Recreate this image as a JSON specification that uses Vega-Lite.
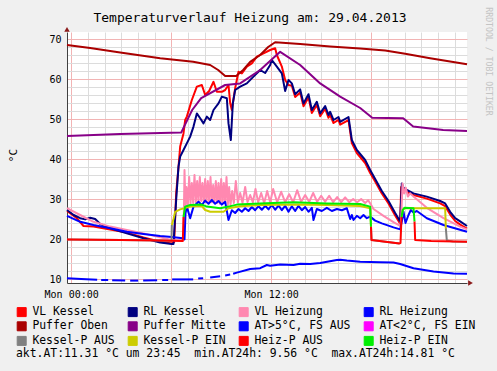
{
  "$schema": "https://vega.github.io/schema/vega-lite/v6.json",
  "width": 400,
  "height": 251,
  "autosize": {"type": "none"},
  "padding": {"left": 67, "top": 32, "right": 30, "bottom": 88},
  "background": "#f0f0f0",
  "datasets": {
    "d": [
      {"s":"VL Kessel","h":-0.25,"v":27.0},{"s":"VL Kessel","h":0.34,"v":25.2},{"s":"VL Kessel","h":0.74,"v":23.25},{"s":"VL Kessel","h":1.34,"v":23.1},{"s":"VL Kessel","h":2.34,"v":22.4},{"s":"VL Kessel","h":3.34,"v":21.6},{"s":"VL Kessel","h":4.34,"v":20.4},{"s":"VL Kessel","h":5.34,"v":19.3},{"s":"VL Kessel","h":6.04,"v":18.9},{"s":"VL Kessel","h":6.18,"v":19.2},{"s":"VL Kessel","h":6.3,"v":31.4},{"s":"VL Kessel","h":6.44,"v":38.0},{"s":"VL Kessel","h":6.54,"v":43.1},{"s":"VL Kessel","h":6.74,"v":46.4},{"s":"VL Kessel","h":6.84,"v":49.75},{"s":"VL Kessel","h":6.94,"v":50.6},{"s":"VL Kessel","h":7.24,"v":54.75},{"s":"VL Kessel","h":7.54,"v":58.1},{"s":"VL Kessel","h":7.84,"v":58.5},{"s":"VL Kessel","h":8.04,"v":56.0},{"s":"VL Kessel","h":8.28,"v":57.0},{"s":"VL Kessel","h":8.54,"v":59.3},{"s":"VL Kessel","h":8.74,"v":56.8},{"s":"VL Kessel","h":9.04,"v":56.8},{"s":"VL Kessel","h":9.24,"v":57.25},{"s":"VL Kessel","h":9.44,"v":58.5},{"s":"VL Kessel","h":9.54,"v":54.0},{"s":"VL Kessel","h":9.64,"v":52.25},{"s":"VL Kessel","h":9.84,"v":57.7},{"s":"VL Kessel","h":10.04,"v":61.8},{"s":"VL Kessel","h":10.24,"v":61.4},{"s":"VL Kessel","h":10.54,"v":63.1},{"s":"VL Kessel","h":10.84,"v":63.9},{"s":"VL Kessel","h":11.14,"v":65.6},{"s":"VL Kessel","h":11.54,"v":66.4},{"s":"VL Kessel","h":11.94,"v":67.25},{"s":"VL Kessel","h":12.24,"v":67.7},{"s":"VL Kessel","h":12.34,"v":66.0},{"s":"VL Kessel","h":12.64,"v":63.1},{"s":"VL Kessel","h":12.84,"v":59.75},{"s":"VL Kessel","h":13.04,"v":58.5},{"s":"VL Kessel","h":13.24,"v":58.3},{"s":"VL Kessel","h":13.44,"v":55.5},{"s":"VL Kessel","h":13.74,"v":56.6},{"s":"VL Kessel","h":13.94,"v":53.2},{"s":"VL Kessel","h":14.24,"v":55.4},{"s":"VL Kessel","h":14.44,"v":51.5},{"s":"VL Kessel","h":14.74,"v":53.5},{"s":"VL Kessel","h":14.94,"v":50.7},{"s":"VL Kessel","h":15.24,"v":52.6},{"s":"VL Kessel","h":15.44,"v":50.3},{"s":"VL Kessel","h":15.54,"v":51.0},{"s":"VL Kessel","h":15.74,"v":49.0},{"s":"VL Kessel","h":16.04,"v":49.8},{"s":"VL Kessel","h":16.14,"v":48.6},{"s":"VL Kessel","h":16.64,"v":49.7},{"s":"VL Kessel","h":16.84,"v":44.0},{"s":"VL Kessel","h":17.14,"v":41.5},{"s":"VL Kessel","h":17.64,"v":39.0},{"s":"VL Kessel","h":17.94,"v":36.5},{"s":"VL Kessel","h":18.24,"v":34.4},{"s":"VL Kessel","h":18.64,"v":31.4},{"s":"VL Kessel","h":19.04,"v":28.9},{"s":"VL Kessel","h":19.44,"v":25.9},{"s":"VL Kessel","h":19.74,"v":23.8},{"s":"VL Kessel","h":19.8,"v":33.0},{"s":"VL Kessel","h":20.14,"v":31.8},{"s":"VL Kessel","h":20.54,"v":31.0},{"s":"VL Kessel","h":21.34,"v":30.1},{"s":"VL Kessel","h":22.14,"v":28.9},{"s":"VL Kessel","h":22.44,"v":28.2},{"s":"VL Kessel","h":22.74,"v":26.1},{"s":"VL Kessel","h":23.04,"v":24.5},{"s":"VL Kessel","h":23.34,"v":23.6},{"s":"VL Kessel","h":23.75,"v":22.6},

      {"s":"RL Kessel","h":-0.25,"v":27.25},{"s":"RL Kessel","h":0.15,"v":26.0},{"s":"RL Kessel","h":0.54,"v":25.2},{"s":"RL Kessel","h":0.84,"v":24.9},{"s":"RL Kessel","h":1.14,"v":25.3},{"s":"RL Kessel","h":1.44,"v":25.0},{"s":"RL Kessel","h":1.74,"v":23.75},{"s":"RL Kessel","h":2.34,"v":22.7},{"s":"RL Kessel","h":3.34,"v":21.4},{"s":"RL Kessel","h":4.34,"v":20.2},{"s":"RL Kessel","h":5.34,"v":19.1},{"s":"RL Kessel","h":6.04,"v":18.75},{"s":"RL Kessel","h":6.14,"v":18.75},{"s":"RL Kessel","h":6.3,"v":29.75},{"s":"RL Kessel","h":6.44,"v":38.1},{"s":"RL Kessel","h":6.54,"v":40.6},{"s":"RL Kessel","h":6.74,"v":42.25},{"s":"RL Kessel","h":6.94,"v":43.9},{"s":"RL Kessel","h":7.14,"v":45.6},{"s":"RL Kessel","h":7.34,"v":48.1},{"s":"RL Kessel","h":7.54,"v":51.4},{"s":"RL Kessel","h":7.74,"v":50.2},{"s":"RL Kessel","h":7.94,"v":48.9},{"s":"RL Kessel","h":8.14,"v":50.6},{"s":"RL Kessel","h":8.34,"v":49.75},{"s":"RL Kessel","h":8.54,"v":52.25},{"s":"RL Kessel","h":8.84,"v":53.9},{"s":"RL Kessel","h":9.04,"v":55.6},{"s":"RL Kessel","h":9.34,"v":55.2},{"s":"RL Kessel","h":9.44,"v":48.9},{"s":"RL Kessel","h":9.58,"v":44.75},{"s":"RL Kessel","h":9.7,"v":53.9},{"s":"RL Kessel","h":9.84,"v":57.25},{"s":"RL Kessel","h":10.14,"v":58.1},{"s":"RL Kessel","h":10.54,"v":58.9},{"s":"RL Kessel","h":10.94,"v":60.6},{"s":"RL Kessel","h":11.34,"v":62.25},{"s":"RL Kessel","h":11.64,"v":61.5},{"s":"RL Kessel","h":11.94,"v":63.5},{"s":"RL Kessel","h":12.04,"v":64.75},{"s":"RL Kessel","h":12.34,"v":63.1},{"s":"RL Kessel","h":12.64,"v":61.4},{"s":"RL Kessel","h":12.84,"v":57.0},{"s":"RL Kessel","h":13.04,"v":59.75},{"s":"RL Kessel","h":13.24,"v":58.9},{"s":"RL Kessel","h":13.44,"v":56.2},{"s":"RL Kessel","h":13.74,"v":57.4},{"s":"RL Kessel","h":13.94,"v":53.9},{"s":"RL Kessel","h":14.24,"v":56.2},{"s":"RL Kessel","h":14.44,"v":52.25},{"s":"RL Kessel","h":14.74,"v":54.3},{"s":"RL Kessel","h":14.94,"v":51.4},{"s":"RL Kessel","h":15.24,"v":53.25},{"s":"RL Kessel","h":15.44,"v":51.0},{"s":"RL Kessel","h":15.54,"v":51.8},{"s":"RL Kessel","h":15.74,"v":49.75},{"s":"RL Kessel","h":16.04,"v":50.5},{"s":"RL Kessel","h":16.14,"v":49.3},{"s":"RL Kessel","h":16.64,"v":50.5},{"s":"RL Kessel","h":16.84,"v":44.75},{"s":"RL Kessel","h":17.14,"v":42.25},{"s":"RL Kessel","h":17.64,"v":39.75},{"s":"RL Kessel","h":17.94,"v":37.25},{"s":"RL Kessel","h":18.24,"v":35.0},{"s":"RL Kessel","h":18.64,"v":32.0},{"s":"RL Kessel","h":19.04,"v":29.5},{"s":"RL Kessel","h":19.44,"v":26.5},{"s":"RL Kessel","h":19.74,"v":24.4},{"s":"RL Kessel","h":19.84,"v":33.9},{"s":"RL Kessel","h":19.94,"v":32.8},{"s":"RL Kessel","h":20.14,"v":32.25},{"s":"RL Kessel","h":20.54,"v":31.4},{"s":"RL Kessel","h":21.34,"v":30.6},{"s":"RL Kessel","h":22.14,"v":29.5},{"s":"RL Kessel","h":22.44,"v":28.9},{"s":"RL Kessel","h":22.74,"v":26.8},{"s":"RL Kessel","h":23.04,"v":25.2},{"s":"RL Kessel","h":23.34,"v":24.4},{"s":"RL Kessel","h":23.75,"v":23.25},

      {"s":"VL Heizung","h":-0.25,"v":27.7},{"s":"VL Heizung","h":0.54,"v":26.0},{"s":"VL Heizung","h":1.34,"v":24.3},{"s":"VL Heizung","h":2.34,"v":23.1},{"s":"VL Heizung","h":3.34,"v":22.25},{"s":"VL Heizung","h":4.34,"v":21.4},{"s":"VL Heizung","h":5.34,"v":20.4},{"s":"VL Heizung","h":6.04,"v":19.75},{"s":"VL Heizung","h":6.6,"v":19.6},{"s":"VL Heizung","h":6.74,"v":20.0},{"s":"VL Heizung","h":6.8,"v":37.25},{"s":"VL Heizung","h":6.86,"v":28.0},{"s":"VL Heizung","h":6.92,"v":33.0},{"s":"VL Heizung","h":7.0,"v":28.5},{"s":"VL Heizung","h":7.08,"v":35.5},{"s":"VL Heizung","h":7.16,"v":28.8},{"s":"VL Heizung","h":7.24,"v":34.0},{"s":"VL Heizung","h":7.32,"v":29.0},{"s":"VL Heizung","h":7.4,"v":36.0},{"s":"VL Heizung","h":7.48,"v":29.2},{"s":"VL Heizung","h":7.56,"v":34.5},{"s":"VL Heizung","h":7.64,"v":29.2},{"s":"VL Heizung","h":7.72,"v":35.5},{"s":"VL Heizung","h":7.8,"v":29.5},{"s":"VL Heizung","h":7.88,"v":34.0},{"s":"VL Heizung","h":7.96,"v":29.2},{"s":"VL Heizung","h":8.04,"v":35.0},{"s":"VL Heizung","h":8.12,"v":29.2},{"s":"VL Heizung","h":8.2,"v":34.5},{"s":"VL Heizung","h":8.28,"v":29.0},{"s":"VL Heizung","h":8.36,"v":35.5},{"s":"VL Heizung","h":8.44,"v":29.2},{"s":"VL Heizung","h":8.52,"v":33.5},{"s":"VL Heizung","h":8.6,"v":29.0},{"s":"VL Heizung","h":8.68,"v":34.5},{"s":"VL Heizung","h":8.76,"v":29.0},{"s":"VL Heizung","h":8.84,"v":34.0},{"s":"VL Heizung","h":8.92,"v":28.8},{"s":"VL Heizung","h":9.0,"v":35.0},{"s":"VL Heizung","h":9.08,"v":29.0},{"s":"VL Heizung","h":9.16,"v":34.0},{"s":"VL Heizung","h":9.24,"v":29.0},{"s":"VL Heizung","h":9.32,"v":35.5},{"s":"VL Heizung","h":9.4,"v":28.5},{"s":"VL Heizung","h":9.48,"v":33.0},{"s":"VL Heizung","h":9.56,"v":28.5},{"s":"VL Heizung","h":9.66,"v":32.0},{"s":"VL Heizung","h":9.76,"v":29.0},{"s":"VL Heizung","h":9.88,"v":34.5},{"s":"VL Heizung","h":10.0,"v":29.2},{"s":"VL Heizung","h":10.14,"v":31.5},{"s":"VL Heizung","h":10.28,"v":29.0},{"s":"VL Heizung","h":10.44,"v":33.0},{"s":"VL Heizung","h":10.58,"v":29.2},{"s":"VL Heizung","h":10.74,"v":31.0},{"s":"VL Heizung","h":10.9,"v":29.2},{"s":"VL Heizung","h":11.06,"v":32.5},{"s":"VL Heizung","h":11.22,"v":29.2},{"s":"VL Heizung","h":11.4,"v":31.5},{"s":"VL Heizung","h":11.58,"v":29.0},{"s":"VL Heizung","h":11.76,"v":32.0},{"s":"VL Heizung","h":11.94,"v":29.2},{"s":"VL Heizung","h":12.12,"v":32.5},{"s":"VL Heizung","h":12.36,"v":29.2},{"s":"VL Heizung","h":12.6,"v":31.8},{"s":"VL Heizung","h":12.84,"v":29.2},{"s":"VL Heizung","h":13.08,"v":31.2},{"s":"VL Heizung","h":13.32,"v":29.2},{"s":"VL Heizung","h":13.56,"v":32.2},{"s":"VL Heizung","h":13.8,"v":29.3},{"s":"VL Heizung","h":14.04,"v":31.0},{"s":"VL Heizung","h":14.28,"v":29.3},{"s":"VL Heizung","h":14.52,"v":31.5},{"s":"VL Heizung","h":14.76,"v":29.3},{"s":"VL Heizung","h":15.0,"v":30.8},{"s":"VL Heizung","h":15.24,"v":29.3},{"s":"VL Heizung","h":15.48,"v":30.8},{"s":"VL Heizung","h":15.72,"v":29.2},{"s":"VL Heizung","h":15.96,"v":30.5},{"s":"VL Heizung","h":16.2,"v":29.2},{"s":"VL Heizung","h":16.44,"v":30.4},{"s":"VL Heizung","h":16.68,"v":29.2},{"s":"VL Heizung","h":16.92,"v":30.0},{"s":"VL Heizung","h":17.16,"v":29.2},{"s":"VL Heizung","h":17.4,"v":30.0},{"s":"VL Heizung","h":17.64,"v":29.0},{"s":"VL Heizung","h":17.82,"v":29.7},{"s":"VL Heizung","h":17.94,"v":28.9},{"s":"VL Heizung","h":18.14,"v":27.5},{"s":"VL Heizung","h":18.74,"v":25.8},{"s":"VL Heizung","h":19.34,"v":24.2},{"s":"VL Heizung","h":19.74,"v":23.3},{"s":"VL Heizung","h":19.8,"v":25.0},{"s":"VL Heizung","h":19.88,"v":33.9},{"s":"VL Heizung","h":19.98,"v":31.4},{"s":"VL Heizung","h":20.08,"v":32.8},{"s":"VL Heizung","h":20.2,"v":30.6},{"s":"VL Heizung","h":20.34,"v":31.4},{"s":"VL Heizung","h":20.54,"v":30.6},{"s":"VL Heizung","h":21.34,"v":27.8},{"s":"VL Heizung","h":22.34,"v":25.2},{"s":"VL Heizung","h":23.34,"v":23.1},{"s":"VL Heizung","h":23.75,"v":22.4},

      {"s":"RL Heizung","h":-0.25,"v":25.8},{"s":"RL Heizung","h":0.54,"v":24.3},{"s":"RL Heizung","h":1.34,"v":23.5},{"s":"RL Heizung","h":2.34,"v":22.7},{"s":"RL Heizung","h":3.34,"v":21.8},{"s":"RL Heizung","h":4.34,"v":21.25},{"s":"RL Heizung","h":5.34,"v":20.75},{"s":"RL Heizung","h":6.04,"v":20.5},{"s":"RL Heizung","h":6.7,"v":20.2},{"s":"RL Heizung","h":6.8,"v":19.9},{"s":"RL Heizung","h":6.86,"v":26.4},{"s":"RL Heizung","h":6.94,"v":28.1},{"s":"RL Heizung","h":7.14,"v":25.2},{"s":"RL Heizung","h":7.34,"v":28.1},{"s":"RL Heizung","h":7.64,"v":29.3},{"s":"RL Heizung","h":7.84,"v":28.5},{"s":"RL Heizung","h":8.04,"v":29.6},{"s":"RL Heizung","h":8.24,"v":28.8},{"s":"RL Heizung","h":8.44,"v":29.75},{"s":"RL Heizung","h":8.64,"v":28.8},{"s":"RL Heizung","h":8.84,"v":29.5},{"s":"RL Heizung","h":9.04,"v":28.6},{"s":"RL Heizung","h":9.24,"v":29.3},{"s":"RL Heizung","h":9.44,"v":24.75},{"s":"RL Heizung","h":9.64,"v":27.2},{"s":"RL Heizung","h":9.84,"v":26.5},{"s":"RL Heizung","h":10.04,"v":27.5},{"s":"RL Heizung","h":10.24,"v":26.8},{"s":"RL Heizung","h":10.44,"v":27.7},{"s":"RL Heizung","h":10.64,"v":27.0},{"s":"RL Heizung","h":10.84,"v":28.0},{"s":"RL Heizung","h":11.04,"v":27.2},{"s":"RL Heizung","h":11.24,"v":28.2},{"s":"RL Heizung","h":11.44,"v":27.3},{"s":"RL Heizung","h":11.64,"v":28.3},{"s":"RL Heizung","h":11.84,"v":27.4},{"s":"RL Heizung","h":12.04,"v":28.5},{"s":"RL Heizung","h":12.24,"v":27.3},{"s":"RL Heizung","h":12.44,"v":28.4},{"s":"RL Heizung","h":12.64,"v":27.2},{"s":"RL Heizung","h":12.84,"v":28.3},{"s":"RL Heizung","h":13.04,"v":26.8},{"s":"RL Heizung","h":13.24,"v":28.2},{"s":"RL Heizung","h":13.44,"v":27.0},{"s":"RL Heizung","h":13.64,"v":28.3},{"s":"RL Heizung","h":13.84,"v":27.2},{"s":"RL Heizung","h":14.04,"v":28.0},{"s":"RL Heizung","h":14.24,"v":26.8},{"s":"RL Heizung","h":14.44,"v":27.8},{"s":"RL Heizung","h":14.54,"v":24.75},{"s":"RL Heizung","h":14.74,"v":27.5},{"s":"RL Heizung","h":15.04,"v":27.0},{"s":"RL Heizung","h":15.34,"v":27.8},{"s":"RL Heizung","h":15.64,"v":27.0},{"s":"RL Heizung","h":15.94,"v":27.5},{"s":"RL Heizung","h":16.24,"v":27.2},{"s":"RL Heizung","h":16.54,"v":27.7},{"s":"RL Heizung","h":16.74,"v":25.0},{"s":"RL Heizung","h":16.84,"v":26.0},{"s":"RL Heizung","h":16.94,"v":24.75},{"s":"RL Heizung","h":17.14,"v":25.8},{"s":"RL Heizung","h":17.34,"v":25.2},{"s":"RL Heizung","h":17.54,"v":26.0},{"s":"RL Heizung","h":17.74,"v":25.2},{"s":"RL Heizung","h":17.94,"v":25.6},{"s":"RL Heizung","h":18.24,"v":24.6},{"s":"RL Heizung","h":18.64,"v":23.9},{"s":"RL Heizung","h":19.34,"v":22.9},{"s":"RL Heizung","h":19.74,"v":22.4},{"s":"RL Heizung","h":19.84,"v":24.4},{"s":"RL Heizung","h":19.94,"v":26.8},{"s":"RL Heizung","h":20.06,"v":24.0},{"s":"RL Heizung","h":20.24,"v":26.0},{"s":"RL Heizung","h":20.38,"v":27.25},{"s":"RL Heizung","h":20.54,"v":26.6},{"s":"RL Heizung","h":20.74,"v":27.0},{"s":"RL Heizung","h":21.34,"v":25.2},{"s":"RL Heizung","h":22.34,"v":23.5},{"s":"RL Heizung","h":23.75,"v":21.8},

      {"s":"Puffer Oben","h":-0.25,"v":68.5},{"s":"Puffer Oben","h":1.14,"v":67.75},{"s":"Puffer Oben","h":2.94,"v":66.6},{"s":"Puffer Oben","h":5.34,"v":65.2},{"s":"Puffer Oben","h":7.32,"v":64.3},{"s":"Puffer Oben","h":8.34,"v":63.5},{"s":"Puffer Oben","h":8.82,"v":62.25},{"s":"Puffer Oben","h":9.24,"v":60.75},{"s":"Puffer Oben","h":9.9,"v":60.75},{"s":"Puffer Oben","h":10.32,"v":62.25},{"s":"Puffer Oben","h":10.74,"v":64.3},{"s":"Puffer Oben","h":11.34,"v":66.0},{"s":"Puffer Oben","h":11.82,"v":68.0},{"s":"Puffer Oben","h":12.24,"v":69.2},{"s":"Puffer Oben","h":13.74,"v":68.75},{"s":"Puffer Oben","h":15.54,"v":68.1},{"s":"Puffer Oben","h":17.34,"v":67.6},{"s":"Puffer Oben","h":18.84,"v":67.1},{"s":"Puffer Oben","h":20.04,"v":66.3},{"s":"Puffer Oben","h":21.54,"v":65.2},{"s":"Puffer Oben","h":23.75,"v":63.7},

      {"s":"Puffer Mitte","h":-0.25,"v":45.75},{"s":"Puffer Mitte","h":2.94,"v":46.25},{"s":"Puffer Mitte","h":6.6,"v":46.6},{"s":"Puffer Mitte","h":7.26,"v":52.25},{"s":"Puffer Mitte","h":7.8,"v":55.2},{"s":"Puffer Mitte","h":9.24,"v":58.5},{"s":"Puffer Mitte","h":10.14,"v":58.9},{"s":"Puffer Mitte","h":11.34,"v":62.25},{"s":"Puffer Mitte","h":12.54,"v":66.8},{"s":"Puffer Mitte","h":13.74,"v":63.5},{"s":"Puffer Mitte","h":14.94,"v":58.9},{"s":"Puffer Mitte","h":16.14,"v":55.6},{"s":"Puffer Mitte","h":17.34,"v":52.75},{"s":"Puffer Mitte","h":18.06,"v":50.3},{"s":"Puffer Mitte","h":19.92,"v":50.2},{"s":"Puffer Mitte","h":20.52,"v":48.1},{"s":"Puffer Mitte","h":22.32,"v":47.25},{"s":"Puffer Mitte","h":23.75,"v":47.0},

      {"s":"AT>5°C, FS AUS","g":1,"h":-0.25,"v":10.2},{"s":"AT>5°C, FS AUS","g":1,"h":0.6,"v":10.0},{"s":"AT>5°C, FS AUS","g":1,"h":1.56,"v":9.8},
      {"s":"AT>5°C, FS AUS","g":2,"h":1.8,"v":9.75},{"s":"AT>5°C, FS AUS","g":2,"h":2.22,"v":9.75},
      {"s":"AT>5°C, FS AUS","g":3,"h":2.46,"v":9.7},{"s":"AT>5°C, FS AUS","g":3,"h":3.24,"v":9.65},
      {"s":"AT>5°C, FS AUS","g":4,"h":3.54,"v":9.6},{"s":"AT>5°C, FS AUS","g":4,"h":4.02,"v":9.6},
      {"s":"AT>5°C, FS AUS","g":5,"h":4.32,"v":9.6},{"s":"AT>5°C, FS AUS","g":5,"h":5.16,"v":9.7},
      {"s":"AT>5°C, FS AUS","g":6,"h":5.46,"v":9.75},{"s":"AT>5°C, FS AUS","g":6,"h":5.82,"v":9.75},
      {"s":"AT>5°C, FS AUS","g":7,"h":6.06,"v":9.9},{"s":"AT>5°C, FS AUS","g":7,"h":7.32,"v":9.9},
      {"s":"AT>5°C, FS AUS","g":8,"h":7.62,"v":10.1},{"s":"AT>5°C, FS AUS","g":8,"h":7.92,"v":10.2},
      {"s":"AT>5°C, FS AUS","g":9,"h":8.34,"v":10.4},{"s":"AT>5°C, FS AUS","g":9,"h":8.94,"v":10.7},
      {"s":"AT>5°C, FS AUS","g":10,"h":9.24,"v":10.9},{"s":"AT>5°C, FS AUS","g":10,"h":9.54,"v":11.1},
      {"s":"AT>5°C, FS AUS","g":11,"h":9.72,"v":11.3},{"s":"AT>5°C, FS AUS","g":11,"h":9.94,"v":11.6},{"s":"AT>5°C, FS AUS","g":11,"h":10.74,"v":12.5},{"s":"AT>5°C, FS AUS","g":11,"h":11.34,"v":12.7},{"s":"AT>5°C, FS AUS","g":11,"h":11.74,"v":13.5},{"s":"AT>5°C, FS AUS","g":11,"h":11.94,"v":13.3},{"s":"AT>5°C, FS AUS","g":11,"h":12.54,"v":13.6},{"s":"AT>5°C, FS AUS","g":11,"h":13.34,"v":13.5},{"s":"AT>5°C, FS AUS","g":11,"h":13.74,"v":13.8},{"s":"AT>5°C, FS AUS","g":11,"h":14.34,"v":13.75},{"s":"AT>5°C, FS AUS","g":11,"h":14.94,"v":14.0},{"s":"AT>5°C, FS AUS","g":11,"h":15.94,"v":14.75},{"s":"AT>5°C, FS AUS","g":11,"h":16.14,"v":14.81},{"s":"AT>5°C, FS AUS","g":11,"h":16.54,"v":14.6},{"s":"AT>5°C, FS AUS","g":11,"h":17.34,"v":14.3},{"s":"AT>5°C, FS AUS","g":11,"h":18.54,"v":14.2},{"s":"AT>5°C, FS AUS","g":11,"h":19.34,"v":14.1},{"s":"AT>5°C, FS AUS","g":11,"h":19.74,"v":13.75},{"s":"AT>5°C, FS AUS","g":11,"h":20.54,"v":12.7},{"s":"AT>5°C, FS AUS","g":11,"h":21.74,"v":11.9},{"s":"AT>5°C, FS AUS","g":11,"h":22.94,"v":11.4},{"s":"AT>5°C, FS AUS","g":11,"h":23.75,"v":11.31},

      {"s":"Kessel-P AUS","g":1,"h":-0.25,"v":19.9},{"s":"Kessel-P AUS","g":1,"h":3.0,"v":19.75},{"s":"Kessel-P AUS","g":1,"h":5.4,"v":19.6},{"s":"Kessel-P AUS","g":1,"h":6.02,"v":19.5},{"s":"Kessel-P AUS","g":1,"h":6.04,"v":23.5},
      {"s":"Kessel-P AUS","g":2,"h":17.99,"v":23.0},{"s":"Kessel-P AUS","g":2,"h":18.02,"v":19.75},{"s":"Kessel-P AUS","g":2,"h":18.5,"v":19.5},{"s":"Kessel-P AUS","g":2,"h":19.7,"v":18.9},
      {"s":"Kessel-P AUS","g":3,"h":22.48,"v":22.7},{"s":"Kessel-P AUS","g":3,"h":22.54,"v":19.6},{"s":"Kessel-P AUS","g":3,"h":22.9,"v":19.4},{"s":"Kessel-P AUS","g":3,"h":23.75,"v":19.3},

      {"s":"Kessel-P EIN","g":1,"h":6.04,"v":23.5},{"s":"Kessel-P EIN","g":1,"h":6.14,"v":25.0},{"s":"Kessel-P EIN","g":1,"h":6.24,"v":26.8},{"s":"Kessel-P EIN","g":1,"h":6.54,"v":27.4},{"s":"Kessel-P EIN","g":1,"h":7.14,"v":28.1},{"s":"Kessel-P EIN","g":1,"h":7.84,"v":28.25},{"s":"Kessel-P EIN","g":1,"h":8.04,"v":27.25},{"s":"Kessel-P EIN","g":1,"h":8.34,"v":26.8},{"s":"Kessel-P EIN","g":1,"h":9.14,"v":26.8},{"s":"Kessel-P EIN","g":1,"h":9.44,"v":27.7},{"s":"Kessel-P EIN","g":1,"h":10.14,"v":28.2},{"s":"Kessel-P EIN","g":1,"h":11.34,"v":28.5},{"s":"Kessel-P EIN","g":1,"h":13.74,"v":28.6},{"s":"Kessel-P EIN","g":1,"h":15.34,"v":28.5},{"s":"Kessel-P EIN","g":1,"h":17.34,"v":28.25},{"s":"Kessel-P EIN","g":1,"h":17.94,"v":27.7},{"s":"Kessel-P EIN","g":1,"h":17.99,"v":23.0},
      {"s":"Kessel-P EIN","g":2,"h":19.84,"v":25.5},{"s":"Kessel-P EIN","g":2,"h":19.9,"v":27.3},{"s":"Kessel-P EIN","g":2,"h":20.0,"v":27.7},{"s":"Kessel-P EIN","g":2,"h":22.44,"v":27.7},{"s":"Kessel-P EIN","g":2,"h":22.48,"v":22.7},

      {"s":"Heiz-P AUS","g":1,"h":-0.25,"v":19.9},{"s":"Heiz-P AUS","g":1,"h":3.0,"v":19.75},{"s":"Heiz-P AUS","g":1,"h":5.4,"v":19.6},{"s":"Heiz-P AUS","g":1,"h":6.7,"v":19.5},{"s":"Heiz-P AUS","g":1,"h":6.74,"v":25.5},
      {"s":"Heiz-P AUS","g":2,"h":17.99,"v":23.1},{"s":"Heiz-P AUS","g":2,"h":18.02,"v":19.75},{"s":"Heiz-P AUS","g":2,"h":18.5,"v":19.5},{"s":"Heiz-P AUS","g":2,"h":19.7,"v":18.9},{"s":"Heiz-P AUS","g":2,"h":19.76,"v":19.0},{"s":"Heiz-P AUS","g":2,"h":19.82,"v":25.5},
      {"s":"Heiz-P AUS","g":3,"h":20.6,"v":24.4},{"s":"Heiz-P AUS","g":3,"h":20.64,"v":19.75},{"s":"Heiz-P AUS","g":3,"h":21.6,"v":19.5},{"s":"Heiz-P AUS","g":3,"h":23.75,"v":19.3},

      {"s":"Heiz-P EIN","g":1,"h":6.74,"v":25.5},{"s":"Heiz-P EIN","g":1,"h":6.84,"v":28.1},{"s":"Heiz-P EIN","g":1,"h":7.14,"v":28.5},{"s":"Heiz-P EIN","g":1,"h":7.84,"v":28.6},{"s":"Heiz-P EIN","g":1,"h":8.14,"v":28.1},{"s":"Heiz-P EIN","g":1,"h":8.94,"v":27.7},{"s":"Heiz-P EIN","g":1,"h":9.44,"v":28.1},{"s":"Heiz-P EIN","g":1,"h":9.94,"v":28.6},{"s":"Heiz-P EIN","g":1,"h":11.34,"v":28.9},{"s":"Heiz-P EIN","g":1,"h":13.34,"v":29.2},{"s":"Heiz-P EIN","g":1,"h":15.34,"v":28.9},{"s":"Heiz-P EIN","g":1,"h":17.34,"v":28.75},{"s":"Heiz-P EIN","g":1,"h":17.94,"v":28.1},{"s":"Heiz-P EIN","g":1,"h":17.99,"v":23.1},
      {"s":"Heiz-P EIN","g":2,"h":19.82,"v":25.5},{"s":"Heiz-P EIN","g":2,"h":19.9,"v":27.3},{"s":"Heiz-P EIN","g":2,"h":20.0,"v":27.8},{"s":"Heiz-P EIN","g":2,"h":20.54,"v":27.7},{"s":"Heiz-P EIN","g":2,"h":20.6,"v":24.4}
    ]
  },
  "data": {"name": "d"},
  "resolve": {"axis": {"x": "independent", "y": "independent"}},
  "layer": [
    {
      "transform": [{"filter": "datum.s === 'AT>5°C, FS AUS'"}],
      "mark": {"type": "line", "color": "#0000ff", "strokeWidth": 2, "strokeJoin": "round"},
      "encoding": {
        "x": {"field": "h", "type": "quantitative", "scale": {"domain": [-0.25, 23.75], "nice": false, "zero": false},
              "axis": {"orient": "bottom", "values": [1,2,3,4,5,7,8,9,10,11,13,14,15,16,17,19,20,21,22,23], "grid": true, "gridColor": "#dcdcdc", "gridOpacity": 1, "labels": false, "ticks": false, "domain": false, "title": null}},
        "y": {"field": "v", "type": "quantitative", "scale": {"domain": [9, 71.75], "nice": false, "zero": false},
              "axis": {"orient": "left", "values": [12,14,16,18,22,24,26,28,32,34,36,38,42,44,46,48,52,54,56,58,62,64,66,68], "grid": true, "gridColor": "#dcdcdc", "gridOpacity": 1, "labels": false, "ticks": false, "domain": false, "title": null}},
        "detail": {"field": "g"}
      }
    },
    {
      "transform": [{"filter": "datum.s === 'AT<2°C, FS EIN'"}],
      "mark": {"type": "line", "color": "#ff00ff", "strokeWidth": 2},
      "encoding": {
        "x": {"field": "h", "type": "quantitative", "scale": {"domain": [-0.25, 23.75], "nice": false, "zero": false},
              "axis": {"orient": "bottom", "values": [0, 6, 12, 18], "grid": true, "gridColor": "#f2b4b4", "gridOpacity": 1, "labels": false, "ticks": false, "domain": false, "title": null}},
        "y": {"field": "v", "type": "quantitative", "scale": {"domain": [9, 71.75], "nice": false, "zero": false},
              "axis": {"orient": "left", "values": [10, 20, 30, 40, 50, 60, 70], "grid": true, "gridColor": "#f2b4b4", "gridOpacity": 1, "labels": false, "ticks": false, "domain": false, "title": null}}
      }
    },
    {
      "transform": [{"filter": "datum.s !== 'AT>5°C, FS AUS' && datum.s !== 'AT<2°C, FS EIN'"}],
      "mark": {"type": "line", "strokeWidth": 2, "strokeJoin": "round"},
      "encoding": {
        "x": {"field": "h", "type": "quantitative", "scale": {"domain": [-0.25, 23.75], "nice": false, "zero": false},
              "axis": {"orient": "bottom", "values": [0, 12], "labelExpr": "datum.value == 0 ? 'Mon 00:00' : 'Mon 12:00'", "grid": false, "ticks": false, "domain": true, "domainColor": "#404040", "labelFont": "DejaVu Sans Mono", "labelFontSize": 10, "labelColor": "#000000", "labelPadding": 6, "labelFlush": false, "labelOverlap": false, "title": null}},
        "y": {"field": "v", "type": "quantitative", "scale": {"domain": [9, 71.75], "nice": false, "zero": false},
              "axis": {"orient": "left", "values": [10, 20, 30, 40, 50, 60, 70], "grid": false, "ticks": false, "domain": true, "domainColor": "#404040", "labelFont": "DejaVu Sans Mono", "labelFontSize": 10, "labelColor": "#000000", "labelPadding": 6, "labelFlush": false,
                       "title": "°C", "titleFont": "DejaVu Sans Mono", "titleFontSize": 11, "titleFontWeight": "normal", "titleColor": "#000000", "titleAngle": 270, "titleX": -54, "titleY": 123, "titleAlign": "center", "titleBaseline": "middle"}},
        "detail": {"field": "g"},
        "color": {"field": "s", "type": "nominal",
          "scale": {
            "domain": ["VL Kessel","RL Kessel","VL Heizung","RL Heizung","Puffer Oben","Puffer Mitte","AT>5°C, FS AUS","AT<2°C, FS EIN","Kessel-P AUS","Kessel-P EIN","Heiz-P AUS","Heiz-P EIN"],
            "range": ["#ff0000","#000080","#ff88b0","#0000ff","#aa0000","#880088","#0000ff","#ff00ff","#808080","#cccc00","#ff0000","#00ee00"]
          },
          "legend": {
            "orient": "none", "legendX": -51, "legendY": 274, "direction": "horizontal", "columns": 4,
            "title": "akt.AT:11.31 °C um 23:45\u00a0\u00a0min.AT24h: 9.56 °C\u00a0\u00a0max.AT24h:14.81 °C",
            "titleOrient": "bottom", "titleAnchor": "start", "titleAlign": "left", "titleFont": "DejaVu Sans Mono", "titleFontSize": 11.4, "titleFontWeight": "normal", "titleColor": "#000000", "titlePadding": 1, "titleLimit": 1000,
            "labelFont": "DejaVu Sans Mono", "labelFontSize": 11.4, "labelColor": "#000000", "labelLimit": 1000, "labelOffset": 5,
            "symbolType": "square", "symbolSize": 81, "symbolStrokeWidth": 1, "columnPadding": 11, "rowPadding": 0.6, "padding": 0, "gridAlign": "each",
            "encode": {"symbols": {"update": {"fill": {"scale": "color", "field": "value"}, "stroke": {"value": "#333333"}, "opacity": {"value": 1}}}}
          }
        }
      }
    },
    {
      "data": {"values": [{}]},
      "mark": {"type": "point", "shape": "triangle-up", "filled": true, "size": 30, "color": "#8b1a1a", "opacity": 1},
      "encoding": {
        "x": {"datum": -0.25, "type": "quantitative", "scale": {"domain": [-0.25, 23.75], "nice": false, "zero": false},
              "axis": {"orient": "top", "labels": false, "ticks": false, "domain": false, "grid": false,
                       "title": "Temperaturverlauf Heizung am: 29.04.2013", "titleFont": "DejaVu Sans Mono", "titleFontSize": 13, "titleFontWeight": "normal", "titleColor": "#000000", "titleX": 182.5, "titleY": -11, "titleAlign": "center", "titleBaseline": "alphabetic", "titleAngle": 0}},
        "y": {"datum": 72.4, "type": "quantitative", "scale": {"domain": [9, 71.75], "nice": false, "zero": false}, "axis": null}
      }
    },
    {
      "data": {"values": [{}]},
      "mark": {"type": "point", "shape": "triangle-right", "filled": true, "size": 30, "color": "#8b1a1a", "opacity": 1},
      "encoding": {
        "x": {"datum": 23.96, "type": "quantitative", "scale": {"domain": [-0.25, 23.75], "nice": false, "zero": false}, "axis": null},
        "y": {"datum": 9, "type": "quantitative", "scale": {"domain": [9, 71.75], "nice": false, "zero": false},
              "axis": {"orient": "right", "labels": false, "ticks": false, "domain": false, "grid": false,
                       "title": "RRDTOOL / TOBI OETIKER", "titleFont": "DejaVu Sans Mono", "titleFontSize": 8.2, "titleFontWeight": "normal", "titleColor": "#c4c4c4", "titleAngle": 90, "titleX": 20, "titleY": 29, "titleAlign": "center", "titleBaseline": "middle"}}
      }
    }
  ],
  "config": {
    "font": "DejaVu Sans Mono",
    "view": {"stroke": null, "fill": "#ffffff"}
  }
}
